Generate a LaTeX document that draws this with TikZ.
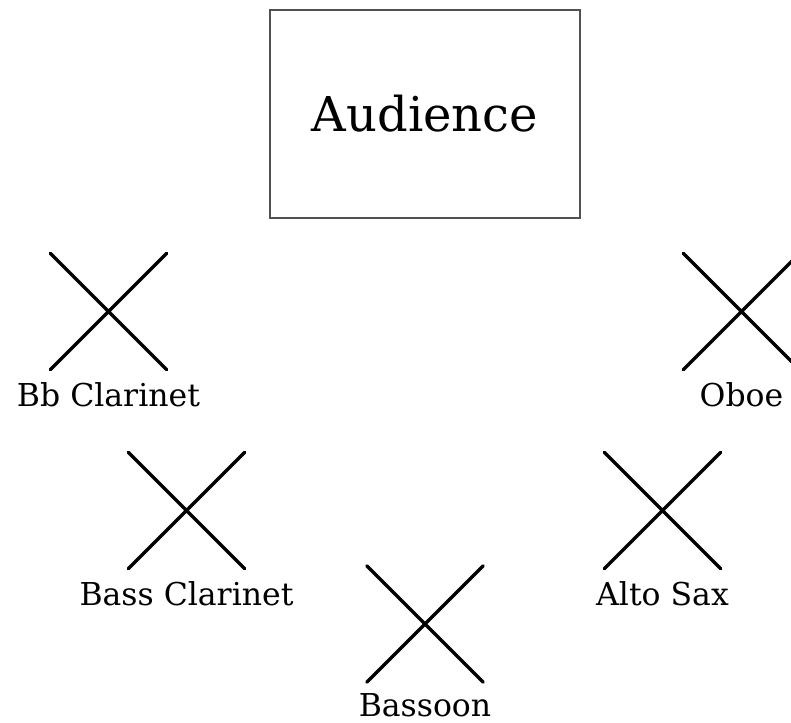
\documentclass[tikz,border=0pt]{standalone}
\usepackage{fontspec}
\setmainfont{DejaVu Serif}
\usetikzlibrary{shapes.misc,positioning}

\begin{document}
\begin{tikzpicture}[x=1pt, y=-1pt,
    seat/.style={cross out, draw, line width=3.3pt, line cap=round, minimum size=113pt, inner sep=0pt},
    part/.style={font=\fontsize{31.5}{36}\selectfont, inner sep=0pt},
    stage/.style={draw=black!68, line width=2pt, minimum width=310pt, minimum height=208pt,
                  font=\fontsize{48}{56}\selectfont}]
        \useasboundingbox (0,0) rectangle (791,722);
        \node[stage] (audience) at (425,114) {Audience};
        % players
        \node[seat] (bbcl) at (108.5,311.5) {};
        \node[seat] (oboe) at (741.5,311.5) {};
        \node[seat] (bscl) at (186.5,510.5) {};
        \node[seat] (alto) at (662.5,510.5) {};
        \node[seat] (bsn) at (425,624) {};
        \node[part, below=36.5pt of bbcl.south, anchor=base] (bbcltext) {Bb Clarinet};
        \node[part, below=36.5pt of oboe.south, anchor=base] (oboetext) {Oboe};
        \node[part, below=36.5pt of bscl.south, anchor=base] (bscltext) {Bass Clarinet};
        \node[part, below=36.5pt of alto.south, anchor=base] (altotext) {Alto Sax};
        \node[part, below=34pt of bsn.south, anchor=base] (bsntext) {Bassoon};
      \end{tikzpicture}
\end{document}
